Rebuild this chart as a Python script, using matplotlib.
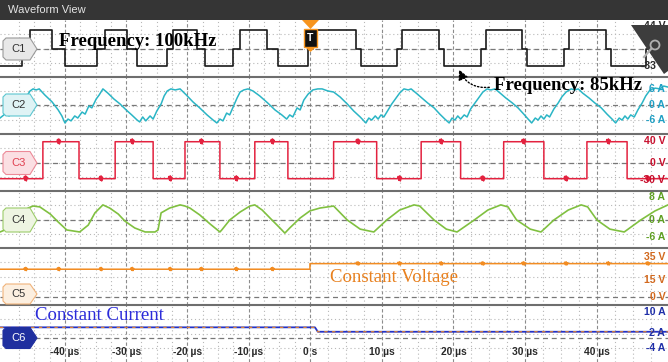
import numpy as np
import matplotlib
matplotlib.use("Agg")
import matplotlib.pyplot as plt
from matplotlib.patches import Polygon, Rectangle, Ellipse, FancyArrowPatch
from matplotlib.lines import Line2D

plt.rcParams['font.family'] = ['Liberation Sans', 'DejaVu Sans']

# ---------------- data (time in µs) ----------------
T_MIN, T_MAX = -50.6, 49.9
TIME_TICKS = [-40, -30, -20, -10, 0, 10, 20, 30, 40]
TIME_LABELS = ["-40 µs", "-30 µs", "-20 µs", "-10 µs", "0 s",
               "10 µs", "20 µs", "30 µs", "40 µs"]

# C1: three-level voltage (V), step edges
C1_EDGES = [-50.6, -47.0, -45.7, -42.1, -40.0, -34.8, -33.5, -29.9, -28.2,
            -23.3, -22.4, -18.4, -17.1, -12.6, -11.4, -7.0, -5.2, -0.3,
            0.4, 6.4, 7.1, 12.1, 12.8, 18.0, 18.7, 23.8, 24.5, 29.5, 30.2,
            35.4, 36.1, 41.3, 42.0, 46.8, 47.5]
C1_LEVELS = [-32, 0, 35, 0, -32, 0, 35, 0, -32, 0, 35, 0, -32, 0, 35, 0, -32,
             0, 35, 0, -32, 0, 35, 0, -32, 0, 35, 0, -32, 0, 35, 0, -32, 0, 35]

# C2: current (A)
C2_POINTS = [
    (-50.6, -5.2), (-49.8, -3.7), (-49.1, -4.4), (-48.3, -1.3), (-47.7, -2.1),
    (-46.9, 1.7), (-46.2, 3.3), (-45.7, 5.2), (-45.2, 6.0), (-44.7, 5.6),
    (-44.2, 6.0), (-43.3, 3.7), (-42.1, 1.0), (-41.1, -2.1), (-40.5, -4.4),
    (-40.0, -7.1), (-39.5, -5.6), (-39.0, -6.3), (-38.4, -4.4), (-37.9, -5.2),
    (-37.2, -2.9), (-36.7, -3.7), (-36.1, -0.6), (-35.6, -1.3), (-34.9, 2.1),
    (-34.4, 3.7), (-33.8, 6.0), (-33.0, 4.4), (-32.0, 2.1), (-31.0, 0.2),
    (-30.0, -2.1), (-29.1, -4.0), (-28.2, -6.0), (-27.8, -6.7), (-27.3, -4.8),
    (-26.8, -6.3), (-26.1, -4.4), (-25.6, -5.6), (-25.0, -2.5), (-24.3, 0.2),
    (-23.8, 3.3), (-23.3, 5.2), (-22.7, 6.0), (-22.0, 5.6), (-21.2, 6.0),
    (-20.2, 3.7), (-19.1, 1.0), (-18.0, -1.3), (-16.8, -4.0), (-15.8, -6.0),
    (-15.2, -7.1), (-14.7, -5.6), (-14.2, -6.3), (-13.6, -3.3), (-13.1, -4.0),
    (-12.4, -0.2), (-11.9, 2.5), (-11.4, 4.8), (-10.8, 5.6), (-10.1, 6.0),
    (-9.3, 5.2), (-8.2, 3.3), (-6.9, 0.6), (-5.7, -2.1), (-4.6, -4.0),
    (-3.8, -5.6), (-3.3, -4.0), (-2.8, -4.8), (-2.1, -1.3), (-1.6, -2.1),
    (-1.0, 1.7), (-0.3, 4.0),
    (0.4, 5.6), (1.1, 6.0), (1.7, 6.0), (2.5, 5.2), (3.3, 4.8), (4.2, 2.9),
    (5.2, 0.2), (6.1, -2.5), (7.0, -4.8), (7.8, -7.1),
    (8.2, -5.2), (8.6, -6.0), (9.1, -4.4), (9.5, -5.6), (9.9, -4.0), (10.3, -4.8),
    (10.9, -2.1), (11.4, 0.2), (12.0, 2.5), (12.5, 4.4), (13.1, 6.0), (13.7, 5.6),
    (14.1, 6.0), (14.8, 4.4), (15.6, 2.5), (16.4, 0.6), (17.3, -1.3), (18.1, -3.7),
    (18.8, -5.6), (19.4, -7.1), (19.8, -5.2), (20.2, -6.0), (20.6, -4.4),
    (21.0, -5.6), (21.5, -4.0), (21.9, -4.8), (22.4, -1.7), (23.0, 0.6),
    (23.6, 2.9), (24.1, 4.8), (24.7, 6.0), (25.2, 5.6), (25.8, 6.0), (26.5, 4.4),
    (27.3, 2.5), (28.2, 0.6), (29.0, -1.3), (29.8, -3.7), (30.4, -5.6),
    (30.9, -7.1), (31.4, -5.2), (31.8, -6.0), (32.2, -4.4), (32.6, -5.6),
    (33.0, -4.0), (33.4, -4.8), (34.0, -1.7), (34.6, 0.6), (35.1, 2.9),
    (35.7, 4.8), (36.4, 6.0), (36.9, 5.6), (37.4, 6.0), (38.0, 4.4), (38.9, 2.5),
    (39.7, 0.6), (40.6, -1.3), (41.4, -3.7), (42.1, -5.6), (42.6, -7.1),
    (43.1, -5.2), (43.5, -6.0), (43.9, -4.4), (44.3, -5.6), (44.7, -4.0),
    (45.2, -4.8), (45.7, -2.1), (46.3, 0.6), (46.8, 3.3), (47.4, 5.6),
    (48.1, 6.3), (48.8, 6.0), (49.3, 7.1), (49.9, 6.7)]

# C3: square-wave voltage (V)
C3_EDGES = [-50.6, -43.6, -37.7, -31.8, -25.6, -20.4, -14.7, -9.0, -3.6,
            3.3, 9.3, 15.5, 21.0, 27.0, 32.6, 38.6, 44.2]
C3_LEVELS = [-28, 38, -28, 38, -28, 38, -28, 38, -28,
             38, -28, 38, -28, 38, -28, 38, -28]
# switching-noise bursts
SWITCH_T = [-46.4, -41.0, -34.1, -29.0, -22.8, -17.7, -12.0, -6.1,
            6.7, 12.5, 18.3, 24.1, 29.8, 35.7, 41.6, 47.1]
BURST_DT = [-0.3, -0.2, -0.1, 0.0, 0.1, 0.2, 0.3]
C3_BURST_V = [0, 4, -3, 5, -4, 3, 0]
C5_BURST_V = [0, 1.2, -1.0, 1.6, -1.2, 0.8, 0]

# C4: current (A)
C4_POINTS = [
    (-50.6, -4.2), (-49.8, -3.5), (-48.2, 0.0), (-46.0, 4.2), (-45.2, 4.9),
    (-44.1, 4.6), (-42.4, 2.1), (-41.1, -0.7), (-39.7, -3.5), (-37.6, -4.2),
    (-36.2, -1.8), (-35.1, 2.5), (-33.8, 5.3), (-32.7, 4.2), (-31.3, 2.1),
    (-30.2, -0.4), (-28.6, -2.8), (-26.9, -4.2), (-25.3, -4.2), (-24.8, -3.5),
    (-24.3, 2.5), (-22.9, 4.2), (-21.2, 5.3), (-20.4, 4.9), (-19.6, 4.2),
    (-18.0, 1.8), (-16.3, -1.4), (-14.7, -4.2), (-14.4, -3.5), (-13.1, 0.0),
    (-11.4, 2.8), (-9.8, 4.9), (-9.0, 5.3), (-7.8, 3.5), (-6.2, 0.0),
    (-4.9, -2.8), (-4.1, -4.6), (-3.3, -2.8), (-1.6, 0.7), (0.0, 3.2),
    (1.4, 4.2), (3.3, 4.9), (5.2, 0.0), (7.0, -3.2), (8.9, -4.2), (10.7, 0.0),
    (12.5, 3.5), (14.5, 5.3), (15.3, 4.9), (17.3, 0.0), (19.0, -3.2),
    (20.5, -4.2), (22.9, 0.0), (24.8, 3.5), (26.6, 5.3), (27.6, 4.6),
    (28.8, 0.0), (30.7, -3.2), (32.2, -4.2), (34.0, 0.0), (36.0, 3.5),
    (37.8, 5.3), (38.7, 4.6), (40.0, 0.0), (41.8, -3.2), (43.8, -4.2),
    (46.1, 0.0), (48.1, 3.2), (49.9, 5.3)]

# C5: output voltage (V), C6: output current (A)
C5_T = [-50.6, 0.0, 0.0, 49.9]
C5_V = [24.3, 24.3, 29.2, 29.2]
C6_T = [-50.6, 0.7, 1.1, 49.9]
C6_A = [4.1, 4.1, 2.4, 2.4]

# right-hand scale labels
C1_TICKS, C1_TLAB = [44, -33], ["44 V", "-33 V"]
C2_TICKS, C2_TLAB = [6, 0, -6], ["6 A", "0 A", "-6 A"]
C3_TICKS, C3_TLAB = [40, 0, -30], ["40 V", "0 V", "-30 V"]
C4_TICKS, C4_TLAB = [8, 0, -6], ["8 A", "0 A", "-6 A"]
C5_TICKS, C5_TLAB = [35, 15, 0], ["35 V", "15 V", "0 V"]
C6_TICKS, C6_TLAB = [10, 2, -4], ["10 A", "2 A", "-4 A"]

# ---------------- layout ----------------
W, H = 668, 362
fig = plt.figure(figsize=(W / 100, H / 100), dpi=100)
fig.patch.set_facecolor('white')


def fx(x):
    return x / W


def fy(y):
    return 1 - y / H


def fwd(t):
    t = np.asarray(t, dtype=float)
    return np.where(t < 0, t * 6.125, t * 7.175)


def inv(p):
    p = np.asarray(p, dtype=float)
    return np.where(p < 0, p / 6.125, p / 7.175)


def step_path(edges, levels, tmax):
    t, v = [edges[0]], [levels[0]]
    for i in range(1, len(edges)):
        t += [edges[i], edges[i]]
        v += [levels[i - 1], levels[i]]
    t.append(tmax)
    v.append(levels[-1])
    return np.array(t, float), np.array(v, float)


def add_bursts(t, v, edges, levels, times, dts, dvs):
    bt, bv = [], []
    for b in times:
        idx = int(np.searchsorted(edges, b, side='right')) - 1
        base = levels[idx]
        for d, e in zip(dts, dvs):
            bt.append(b + d)
            bv.append(base + e)
    at = np.concatenate([t, bt])
    av = np.concatenate([v, bv])
    order = np.argsort(at, kind='stable')
    return at[order], av[order]


PANEL_TOPS = [20, 77, 134, 191, 248, 305]
PANEL_H = 57
ZERO_PX = [49, 104.5, 163, 220, 297, 338]
PX_PER_UNIT = [0.53, 2.6, 0.56, 2.85, 1.143, 2.6]

axes = []
for top, p0, s in zip(PANEL_TOPS, ZERO_PX, PX_PER_UNIT):
    ax = fig.add_axes([0, fy(top + PANEL_H), 1, PANEL_H / H])
    ax.set_xscale('function', functions=(fwd, inv))
    ax.set_xlim(T_MIN, T_MAX)
    y0, y1 = (p0 - (top + PANEL_H)) / s, (p0 - top) / s
    ax.set_ylim(y0, y1)
    ax.axis('off')
    for tm in np.arange(-50, 50, 2.5):
        if abs(tm % 10) > 1e-6:
            ax.axvline(tm, color='#b8b8b8', lw=0.8, ls=(0, (1, 2.5)), zorder=0)
    for tm in TIME_TICKS:
        ax.axvline(tm, color='#8c8c8c', lw=0.8, ls=(0, (3, 2)), zorder=0)
    for f in (0.25, 0.5, 0.75):
        ax.axhline(y0 + f * (y1 - y0), color='#b8b8b8', lw=0.8,
                   ls=(0, (1, 2.5)), zorder=0)
    ax.axhline(0, color='#787878', lw=0.9, ls=(0, (4, 3)), zorder=0.5)
    axes.append(ax)

ax1, ax2, ax3, ax4, ax5, ax6 = axes

# traces
t1, v1 = step_path(C1_EDGES, C1_LEVELS, T_MAX)
ax1.plot(t1, v1, color='#1a1a1a', lw=1.2, zorder=3)

ax2.plot([p[0] for p in C2_POINTS], [p[1] for p in C2_POINTS],
         color='#2ab5c5', lw=1.1, zorder=3)

t3, v3 = step_path(C3_EDGES, C3_LEVELS, T_MAX)
t3, v3 = add_bursts(t3, v3, C3_EDGES, C3_LEVELS, SWITCH_T, BURST_DT, C3_BURST_V)
ax3.plot(t3, v3, color='#e3223f', lw=1.1, zorder=3)

ax4.plot([p[0] for p in C4_POINTS], [p[1] for p in C4_POINTS],
         color='#80c040', lw=1.2, zorder=3)

C5_EDGES = [C5_T[0], C5_T[2]]
C5_LEV = [C5_V[0], C5_V[2]]
t5, v5 = add_bursts(np.array(C5_T), np.array(C5_V), C5_EDGES, C5_LEV,
                    SWITCH_T, BURST_DT, C5_BURST_V)
ax5.plot(t5, v5, color='#f28c22', lw=1.1, zorder=3)

ax6.plot(C6_T, C6_A, color='#2232c8', lw=1.3, zorder=3)
ax6.plot(C6_T, C6_A, color='#f28c22', lw=0.8, ls=(0, (3, 4)), zorder=4)

# right-hand scale labels
LABEL_SETS = [(ax1, C1_TICKS, C1_TLAB, '#2a2a2a'),
              (ax2, C2_TICKS, C2_TLAB, '#1f9fc4'),
              (ax3, C3_TICKS, C3_TLAB, '#c8102e'),
              (ax4, C4_TICKS, C4_TLAB, '#5e9f22'),
              (ax5, C5_TICKS, C5_TLAB, '#d2691e'),
              (ax6, C6_TICKS, C6_TLAB, '#1f2fa8')]
for ax, ticks, labs, col in LABEL_SETS:
    for v, lab in zip(ticks, labs):
        ax.text(0.996, v, lab, transform=ax.get_yaxis_transform(), ha='right',
                va='center', fontsize=7.6, color=col, fontweight='bold', zorder=5)

# time labels
for tm, lab in zip(TIME_TICKS, TIME_LABELS):
    ax6.text(tm, 0.175, lab, transform=ax6.get_xaxis_transform(), ha='center',
             va='center', fontsize=7.4, color='#2a2a2a', fontweight='bold', zorder=5)

# separators
for y in PANEL_TOPS[1:]:
    fig.add_artist(Line2D([0, 1], [fy(y), fy(y)], transform=fig.transFigure,
                          color='#6e6e6e', lw=1.5, zorder=5))

# header
fig.add_artist(Rectangle((0, fy(20)), 1, 20 / H, transform=fig.transFigure,
                         facecolor='#353535', edgecolor='none', zorder=6))
fig.text(fx(8), fy(10), 'Waveform View', color='#e4e4e4', fontsize=8,
         ha='left', va='center', zorder=7)

# channel badges
BADGES = [(49, 11, '#e8e8e8', '#9a9a9a', 'C1', '#333333'),
          (105, 11, '#dff3f5', '#5cc6d0', 'C2', '#333333'),
          (163, 11.5, '#fbdfe3', '#ec8a98', 'C3', '#e04050'),
          (220, 12, '#eef5e2', '#9ccc6a', 'C4', '#333333'),
          (294, 10, '#fcefe0', '#f0b37a', 'C5', '#333333'),
          (338, 10.5, '#1f2f9f', '#1f2f9f', 'C6', '#ffffff')]
for yc, half, fill, edge, name, tcol in BADGES:
    xl, xb, xt, r = 3, 30, 37, 3
    pts = [(xl + r, yc - half), (xb, yc - half), (xt, yc), (xb, yc + half),
           (xl + r, yc + half), (xl, yc + half - r), (xl, yc - half + r)]
    fig.add_artist(Polygon([(fx(x), fy(y)) for x, y in pts], closed=True,
                           transform=fig.transFigure, fc=fill, ec=edge,
                           lw=0.8, zorder=8))
    fig.text(fx(19), fy(yc), name, ha='center', va='center', fontsize=8,
             color=tcol, zorder=9)

# trigger marker
fig.add_artist(Polygon([(fx(302), fy(20)), (fx(319), fy(20)), (fx(310.5), fy(29))],
                       transform=fig.transFigure, fc='#f7941d', ec='none', zorder=9))
fig.add_artist(Rectangle((fx(303.5), fy(47)), 13.5 / W, 18 / H,
                         transform=fig.transFigure, fc='#111111',
                         ec='#f7941d', lw=1, zorder=9))
fig.add_artist(Polygon([(fx(305), fy(47)), (fx(316), fy(47)), (fx(310.5), fy(52))],
                       transform=fig.transFigure, fc='#f7941d', ec='none', zorder=9))
fig.text(fx(310.3), fy(38), 'T', color='white', fontweight='bold', fontsize=7.5,
         ha='center', va='center', zorder=10)

# magnifier icon
fig.add_artist(Polygon([(fx(631), fy(25)), (fx(668), fy(25)), (fx(668), fy(71)),
                        (fx(664), fy(74))], transform=fig.transFigure,
                       fc='#3d3d3d', ec='none', zorder=9))
fig.add_artist(Ellipse((fx(655), fy(45)), 9 / W, 9 / H, transform=fig.transFigure,
                       fc='none', ec='#b0b0b0', lw=1.3, zorder=10))
fig.add_artist(Line2D([fx(651.5), fx(644)], [fy(48.5), fy(57)],
                      transform=fig.transFigure, color='#b0b0b0', lw=1.6, zorder=10))

# annotations
fig.text(fx(59), fy(41), 'Frequency: 100kHz', family='Liberation Serif',
         fontweight='bold', fontsize=13.5, ha='left', va='center', zorder=9)
fig.text(fx(494), fy(86), 'Frequency: 85kHz', family='Liberation Serif',
         fontweight='bold', fontsize=13.5, ha='left', va='center', zorder=9)
fig.add_artist(FancyArrowPatch((fx(492), fy(87)), (fx(458), fy(67)),
                               transform=fig.transFigure,
                               arrowstyle='-|>,head_length=6,head_width=3',
                               connectionstyle='arc3,rad=-0.4',
                               linestyle=(0, (1, 1.5)), lw=1, color='black',
                               zorder=9))
fig.text(fx(330), fy(278), 'Constant Voltage', family='Liberation Serif',
         fontsize=13.5, color='#e8801e', ha='left', va='center', zorder=9)
fig.text(fx(35), fy(315), 'Constant Current', family='Liberation Serif',
         fontsize=13.5, color='#2b2bd9', ha='left', va='center', zorder=9)

fig.savefig('out.png', dpi=100)
